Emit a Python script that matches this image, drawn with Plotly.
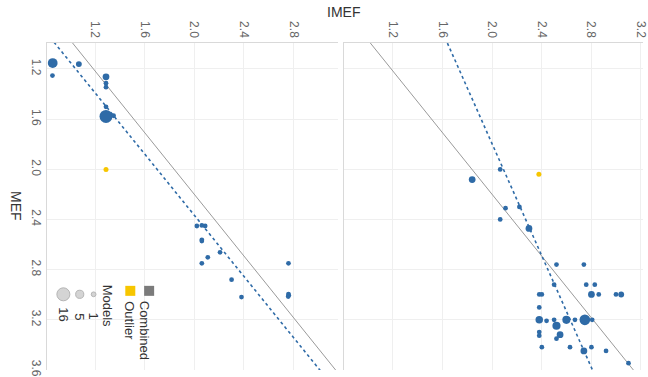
import plotly.graph_objects as go
import numpy as np

# ---- data (IMEF horizontal, MEF vertical) ----
left_imef = [0.858, 0.856, 1.069, 1.288, 1.288, 1.288, 1.288, 1.288, 1.349,
             2.021, 2.061, 2.088, 2.061, 2.061, 2.109, 2.208, 2.061, 2.301, 2.381,
             2.760, 2.760, 2.762, 2.758]
left_mef = [1.153, 1.253, 1.161, 1.263, 1.313, 1.345, 1.502, 1.578, 1.573,
            2.452, 2.447, 2.452, 2.562, 2.572, 2.702, 2.662, 2.749, 2.880, 3.019,
            2.749, 2.995, 3.005, 3.015]
left_models = [8, 1, 2, 3, 1, 1, 1, 16, 1,
               1, 1, 1, 1, 1, 1, 1, 1, 1, 1,
               1, 1, 1, 1]

right_imef = [2.066, 1.840, 2.109, 2.221, 2.066, 2.298,
              2.520, 2.741, 2.501, 2.760, 2.829,
              2.381, 2.402, 2.802, 2.861, 3.000, 3.042,
              2.381, 2.381, 2.440, 2.501, 2.600, 2.669, 2.749, 2.808,
              2.520, 2.381, 2.381, 2.549, 2.520,
              2.402, 2.629, 2.802, 2.741, 2.920, 3.101]
right_mef = [2.001, 2.082, 2.310, 2.300, 2.400, 2.471,
             2.759, 2.759, 2.920, 2.920, 2.920,
             2.998, 2.998, 2.998, 2.998, 2.998, 2.998,
             3.101, 3.200, 3.208, 3.200, 3.200, 3.200, 3.200, 3.200,
             3.247, 3.298, 3.326, 3.318, 3.350,
             3.418, 3.418, 3.418, 3.448, 3.448, 3.546]
right_models = [1, 3, 1, 1, 1, 3,
                1, 1, 1, 1, 1,
                1, 1, 3, 1, 1, 2,
                1, 4, 1, 1, 5, 1, 10, 1,
                5, 1, 1, 3, 1,
                1, 1, 1, 3, 1, 1]

outlier_left = (1.288, 2.001)
outlier_right = (2.378, 2.040)

# trend lines: IMEF = a + b * MEF
combined_line = (0.210, 0.814)
left_fit = (0.059, 0.8205)
right_fit = (1.194, 0.449)

tick_vals = [1.2, 1.6, 2.0, 2.4, 2.8, 3.2, 3.6]
legend_sizes = [1, 5, 16]

BLUE = "#2f6ba7"
YELLOW = "#f7c600"
GRAY = "#9a9a9a"
FONT = "Arial, Liberation Sans, sans-serif"


def msize(n):
    return 2 + 2.75 * np.sqrt(np.array(n, dtype=float))


fig = go.Figure()
mef_line = np.array([0.95, 3.65])

for ax, imef, mef, models, outl, fit in [
    ("", left_imef, left_mef, left_models, outlier_left, left_fit),
    ("2", right_imef, right_mef, right_models, outlier_right, right_fit),
]:
    xa, ya = "x" + ax, "y" + ax
    a, b = combined_line
    fig.add_trace(go.Scatter(x=a + b * mef_line, y=mef_line, mode="lines",
                             line=dict(color=GRAY, width=1), xaxis=xa, yaxis=ya,
                             hoverinfo="skip", showlegend=False))
    a, b = fit
    fig.add_trace(go.Scatter(x=a + b * mef_line, y=mef_line, mode="lines",
                             line=dict(color=BLUE, width=1.6, dash="dot"),
                             xaxis=xa, yaxis=ya, hoverinfo="skip", showlegend=False))
    fig.add_trace(go.Scatter(x=imef, y=mef, mode="markers",
                             marker=dict(color=BLUE, size=msize(models), opacity=1,
                                         line=dict(width=0)),
                             xaxis=xa, yaxis=ya, showlegend=False))
    fig.add_trace(go.Scatter(x=[outl[0]], y=[outl[1]], mode="markers",
                             marker=dict(color=YELLOW, size=5, opacity=1),
                             xaxis=xa, yaxis=ya, showlegend=False))

# legend overlay on a pixel-space axis
fig.add_trace(go.Scatter(x=[150, 131], y=[293.5, 293.5], mode="markers",
                         marker=dict(symbol="square", size=10, opacity=1,
                                     color=["#7b7b7b", YELLOW]),
                         xaxis="x3", yaxis="y3", hoverinfo="skip", showlegend=False))
fig.add_trace(go.Scatter(x=[94, 80, 63.5], y=[297, 297, 297], mode="markers",
                         marker=dict(size=msize(legend_sizes), color="#d4d4d4", opacity=1,
                                     line=dict(color="#b5b5b5", width=1)),
                         xaxis="x3", yaxis="y3", hoverinfo="skip", showlegend=False))

axis_common = dict(showgrid=True, gridcolor="#efefef", gridwidth=1, zeroline=False,
                   showline=True, linecolor="#d9d9d9", linewidth=1,
                   tickvals=tick_vals, tickformat=".1f", ticks="", tickangle=90,
                   ticklabeloverflow="allow",
                   tickfont=dict(family=FONT, size=12, color="#666666"))

W, H = 648, 377
ml, mt, mb = 47, 43, 3.5
pw = W - ml
ph = H - mt - mb
fig.update_layout(
    width=W, height=H,
    margin=dict(l=ml, r=0, t=mt, b=mb),
    paper_bgcolor="white", plot_bgcolor="rgba(0,0,0,0)",
    xaxis=dict(domain=[0, (340 - ml) / pw], range=[0.812, 3.156], side="top",
               anchor="y", **axis_common),
    xaxis2=dict(domain=[(346.5 - ml) / pw, 1], range=[0.806, 3.218], side="top",
                anchor="y2", **axis_common),
    yaxis=dict(range=[3.6, 0.993], anchor="x", **axis_common),
    yaxis2=dict(range=[3.6, 0.993], anchor="x2", matches="y",
                **{**axis_common, "showticklabels": False}),
    xaxis3=dict(domain=[0, 1], range=[ml, W], visible=False, anchor="y3"),
    yaxis3=dict(domain=[0, 1], range=[H - mb, mt], visible=False, anchor="x3"),
    showlegend=False,
)

titles = [
    dict(text="IMEF", x=346, y=12, angle=0),
    dict(text="MEF", x=15, y=208, angle=90),
]
for a in titles:
    fig.add_annotation(text=a["text"], x=(a["x"] - ml) / pw, y=1 - (a["y"] - mt) / ph,
                       xref="paper", yref="paper", xanchor="center", yanchor="middle",
                       showarrow=False, textangle=a["angle"],
                       font=dict(family=FONT, size=14, color="#333333"))

legend_text = [
    dict(text="Combined", x=145, y=333),
    dict(text="Outlier", x=130, y=323.5),
    dict(text="Models", x=108, y=309),
    dict(text="1", x=94, y=319),
    dict(text="5", x=80, y=320),
    dict(text="16", x=64, y=317),
]
for a in legend_text:
    fig.add_annotation(text=a["text"], x=a["x"], y=a["y"], xref="x3", yref="y3",
                       xanchor="center", yanchor="middle",
                       showarrow=False, textangle=90,
                       font=dict(family=FONT, size=13, color="#333333"))

fig.write_html("out.html")
